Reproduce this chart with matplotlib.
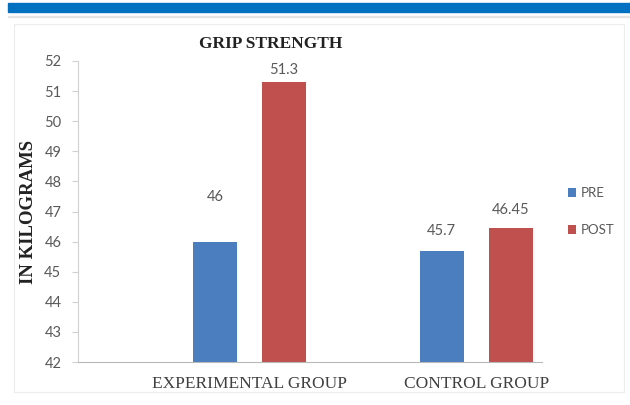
import numpy as np
import matplotlib
matplotlib.use("Agg")
import matplotlib.pyplot as plt
from matplotlib.patches import Rectangle

groups = ["EXPERIMENTAL GROUP", "CONTROL GROUP"]
pre = [46, 45.7]
post = [51.3, 46.45]
pre_labels = ["46", "45.7"]
post_labels = ["51.3", "46.45"]
series = ["PRE", "POST"]

BLUE = "#4a7ebf"
RED = "#c0504d"
GREY = "#595959"

fig = plt.figure(figsize=(6.3, 4.05), dpi=100)

# header stripe and chart frame
fig.patches.append(Rectangle((8 / 630, 1 - 12 / 405), 622 / 630, 9 / 405,
                             transform=fig.transFigure, color="#0070c0", zorder=0))
fig.patches.append(Rectangle((8 / 630, 1 - 17 / 405), 622 / 630, 1 / 405,
                             transform=fig.transFigure, color="#e4e4e4", zorder=0))
fig.patches.append(Rectangle((14 / 630, 1 - 392 / 405), 610 / 630, 368 / 405,
                             transform=fig.transFigure, fill=False,
                             edgecolor="#ececec", lw=0.8, zorder=0))

ax = fig.add_axes([78 / 630, 1 - 362 / 405, 464 / 630, 301 / 405])

x = np.arange(len(groups))
w = 0.194
off = 0.152
b1 = ax.bar(x - off, [v - 42 for v in pre], w, bottom=42, color=BLUE, label=series[0])
b2 = ax.bar(x + off, [v - 42 for v in post], w, bottom=42, color=RED, label=series[1])

ax.set_ylim(42, 52)
ax.set_xlim(-0.757, 1.29)
ax.set_yticks(np.arange(42, 53, 1))
ax.set_xticks(x)
ax.set_xticklabels(groups, fontfamily="Liberation Serif", fontsize=12.5, color="#404040")
for lab in ax.get_yticklabels():
    lab.set_fontfamily("Lato")
    lab.set_fontsize(10.5)
    lab.set_color(GREY)

for s in ["top", "right"]:
    ax.spines[s].set_visible(False)
ax.spines["left"].set_color("#d0d0d0")
ax.spines["bottom"].set_color("#b8b8b8")
ax.tick_params(axis="y", length=4, color="#d0d0d0", pad=8)
ax.tick_params(axis="x", length=0, pad=10)

# value labels above the bars
lift_pre = [27, 9]
lift_post = [4, 8]
for i in range(len(groups)):
    ax.annotate(pre_labels[i], (x[i] - off, pre[i]), xytext=(0, lift_pre[i]),
                textcoords="offset points", ha="center", va="bottom",
                fontfamily="Lato", fontsize=10.5, color=GREY)
    ax.annotate(post_labels[i], (x[i] + off, post[i]), xytext=(0, lift_post[i]),
                textcoords="offset points", ha="center", va="bottom",
                fontfamily="Lato", fontsize=10.5, color=GREY)

ax.set_ylabel("IN KILOGRAMS", fontfamily="Liberation Serif", fontweight="bold",
              fontsize=13.5, color="#222222", labelpad=5)
fig.text(271 / 630, 1 - 44 / 405, "GRIP STRENGTH", ha="center", va="center",
         fontfamily="Liberation Serif", fontweight="bold", fontsize=12.5, color="#222222")

ax.legend(loc="center left", bbox_to_anchor=(1.03, 0.50), frameon=False,
          prop={"family": "Lato", "size": 9.5}, labelcolor=GREY,
          handlelength=0.6, handleheight=0.6, handletextpad=0.4, labelspacing=1.9)

fig.savefig("out.png", dpi=100)
